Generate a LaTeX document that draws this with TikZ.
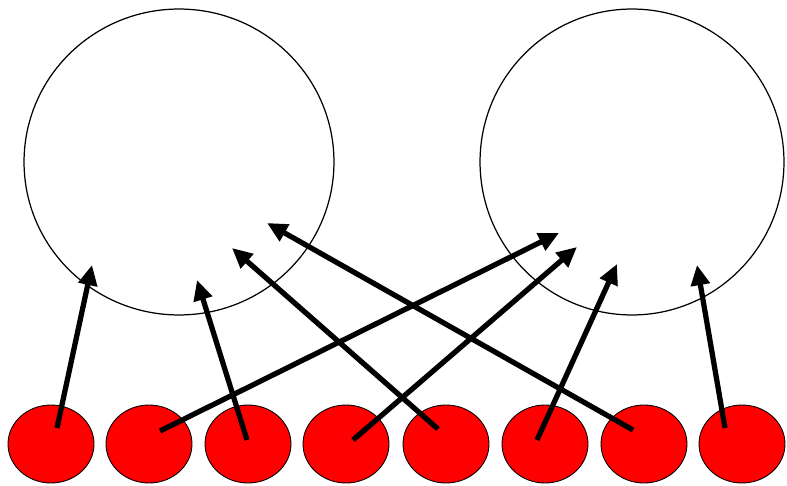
\documentclass[tikz,border=0pt]{standalone}
\usepackage{tikz}
\usepackage{xcolor}
\usetikzlibrary{shapes.geometric,arrows.meta}

\tikzset{
  bigset/.style={draw=black, line width=0.7pt, ellipse, inner sep=0pt,
    minimum height=6.12cm},
  dot/.style={draw=black, line width=0.5pt, fill=red, ellipse, inner sep=0pt,
    minimum width=1.72cm, minimum height=1.56cm},
  link/.style={line width=3pt, -{Triangle[length=11.5pt,width=10.5pt]}}
}

\begin{document}
\begin{tikzpicture}[x=0.02cm, y=-0.02cm]

\useasboundingbox (0, 0) rectangle (787, 486); % limit img size

% big sets
	\node[bigset, minimum width=6.2cm] (left) at (179, 162) {};
	\node[bigset, minimum width=6.08cm] (right) at (632, 162) {};

	% red dots
	\node[dot] (r1) at (51, 444) {};
	\node[dot] (r2) at (149, 444) {};
	\node[dot] (r3) at (248, 444) {};
	\node[dot] (r4) at (346, 444) {};
	\node[dot] (r5) at (446, 444) {};
	\node[dot] (r6) at (545, 444) {};
	\node[dot] (r7) at (644, 444) {};
	\node[dot] (r8) at (742, 444) {};

	% tails
	\coordinate (s1) at (57, 428);
	\coordinate (s2) at (160, 431);
	\coordinate (s3) at (247, 440);
	\coordinate (s4) at (353, 440);
	\coordinate (s5) at (438, 429);
	\coordinate (s6) at (537, 440);
	\coordinate (s7) at (633, 430);
	\coordinate (s8) at (725, 428);

	% heads
	\coordinate (t1) at (92, 265);
	\coordinate (t2) at (559, 233);
	\coordinate (t3) at (197, 280);
	\coordinate (t4) at (577, 247);
	\coordinate (t5) at (232, 248);
	\coordinate (t6) at (617, 264);
	\coordinate (t7) at (267, 223);
	\coordinate (t8) at (697, 265);

	% arrows
	\foreach \i in {1,...,8}
	  \draw[link] (s\i) -- (t\i);

\end{tikzpicture}
\end{document}
